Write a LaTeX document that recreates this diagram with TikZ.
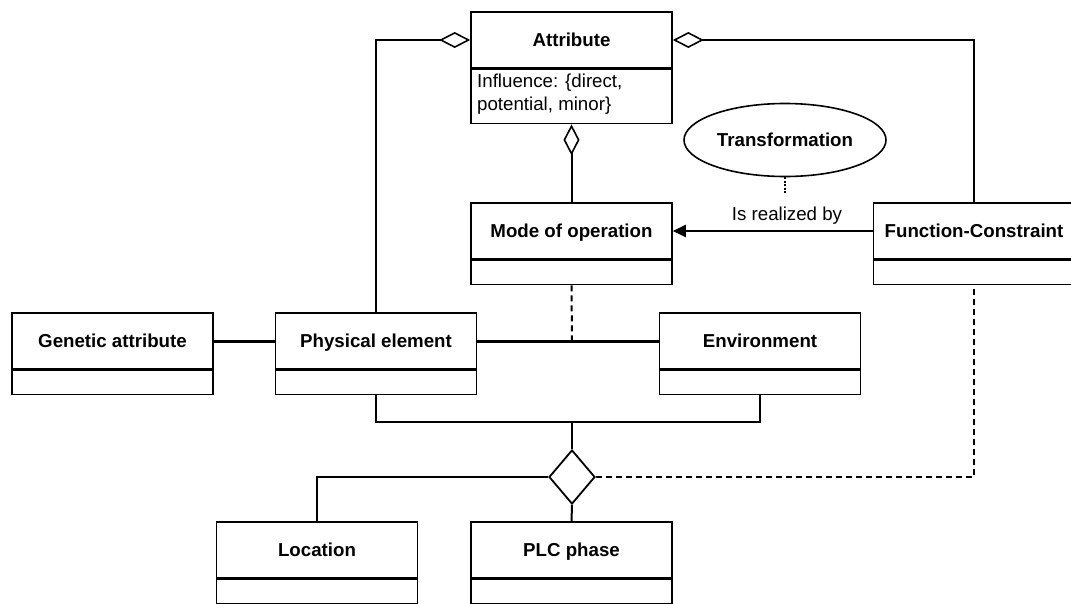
\documentclass[tikz,border=0pt]{standalone}
\usepackage{fontspec}
\setmainfont{Liberation Sans}
\usetikzlibrary{shapes.geometric,arrows.meta,calc}
\begin{document}
\begin{tikzpicture}[x=1pt,y=-1pt,
  every node/.style={font=\fontsize{18.7}{22.5}\selectfont},
  hdr/.style={draw,line width=1.6pt,minimum width=201pt,minimum height=56pt,inner sep=0pt,text height=13.4pt,text depth=0pt,font=\fontsize{18.7}{22.5}\selectfont\bfseries},
  cmp/.style={draw,line width=1.6pt,minimum width=201pt,minimum height=24pt,inner sep=0pt,anchor=north},
  attrtext/.style={inner sep=0pt,anchor=base west},
  conn/.style={line width=2pt},
  heavy/.style={line width=3pt},
  dashline/.style={line width=2pt,dash pattern=on 6pt off 4pt},
  dotline/.style={line width=1.6pt,dash pattern=on 2pt off 1.4pt},
  agg/.style={-{Diamond[open,length=31pt,width=16pt,line width=1.6pt]}}]
\useasboundingbox (0,0) rectangle (1071,603);
% classes
\node[hdr] (attr) at (571.5,40) {Attribute};
\node[cmp,minimum height=54pt] (attrb) at (attr.south) {};
\node[attrtext] (attr1) at (477,87) {Influence: \char"7B direct,};
\node[attrtext] (attr2) at (477,110) {potential, minor\char"7D};
\node[hdr] (mode) at (571.5,231) {Mode of operation};
\node[cmp] (modeb) at (mode.south) {};
\node[hdr] (fc) at (974,231) {Function-Constraint};
\node[cmp] (fcb) at (fc.south) {};
\node[hdr] (gen) at (112.5,341) {Genetic attribute};
\node[cmp] (genb) at (gen.south) {};
\node[hdr] (phys) at (376,341) {Physical element};
\node[cmp] (physb) at (phys.south) {};
\node[hdr] (env) at (760,341) {Environment};
\node[cmp] (envb) at (env.south) {};
\node[hdr] (loc) at (317,550) {Location};
\node[cmp] (locb) at (loc.south) {};
\node[hdr] (plc) at (571.5,550) {PLC phase};
\node[cmp] (plcb) at (plc.south) {};
% ellipse and n-ary diamond
\node[draw,ellipse,line width=1.6pt,minimum width=202pt,minimum height=73pt,inner sep=0pt,text height=13.4pt,text depth=0pt,font=\fontsize{18.7}{22.5}\selectfont\bfseries] (trans) at (785,140) {Transformation};
\node[draw,diamond,line width=1.8pt,minimum width=46pt,minimum height=54pt,inner sep=0pt] (nd) at (572,477) {};
% label
\node[inner sep=0pt,text height=13.4pt,text depth=0pt] (lbl) at (787,214) {Is realized by};
% connectors
\draw[conn,agg] (phys.north) |- (attr.west);
\draw[conn,agg] (fc.north) |- (attr.east);
\draw[conn,agg] (mode.north) -- (attrb.south);
\draw[conn,-{Triangle[length=13pt,width=12pt]}] (fc.west) -- (mode.east);
\coordinate (dd) at ($(trans.south)+(0,16)$);
\draw[dotline] (trans.south) -- (dd);
\draw[heavy] (gen.east) -- (phys.west);
\draw[heavy] (phys.east) -- (env.west);
\coordinate (mid) at (572,341);
\draw[dashline] (modeb.south) -- (mid);
\coordinate (j) at (572,422);
\draw[conn] (physb.south) |- (j) -| (envb.south);
\draw[conn] (j) -- (nd.north);
\draw[conn] (nd.west) -| (loc.north);
\draw[conn] (nd.south) -- (plc.north);
\draw[dashline] (nd.east) -| (fcb.south);
\end{tikzpicture}
\end{document}
